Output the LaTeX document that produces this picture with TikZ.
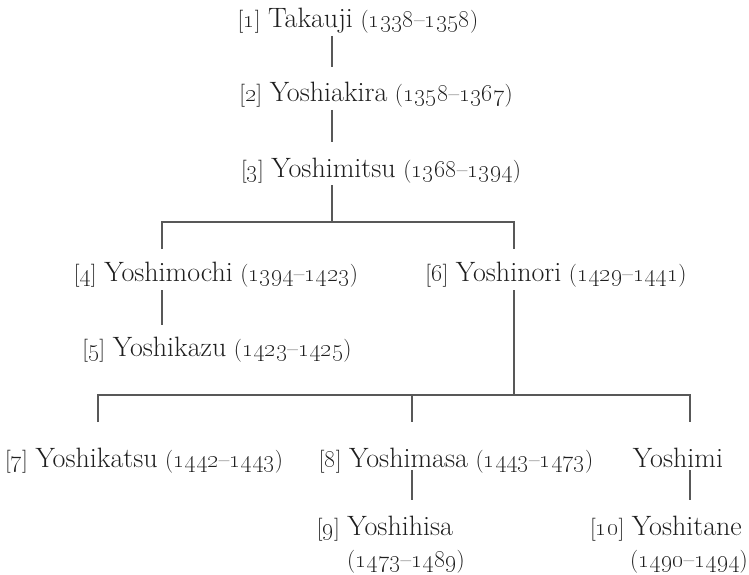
\documentclass[tikz,border=0pt]{standalone}
\usepackage{tikz}
\definecolor{inkc}{HTML}{1E1E1E}
\definecolor{linec}{HTML}{585858}
\newcommand\yrs[2]{{\fontsize{23}{27}\selectfont(\oldstylenums{#1}--\oldstylenums{#2})}}
\newcommand\nbr[1]{{\fontsize{23}{27}\selectfont[\oldstylenums{#1}]}}
\newcommand\nm[1]{{\fontsize{28}{32}\selectfont #1}}
\begin{document}
\begin{tikzpicture}[x=1pt,y=-1pt,
  person/.style={anchor=base, inner sep=0pt, outer sep=0pt, text height=19pt, text depth=6pt, text=inkc, font=\fontsize{25}{30}\selectfont},
  link/.style={draw=linec, line width=1.2pt}]
\useasboundingbox (0,0) rectangle (749,575);
% people
\node[person] (n1) at (358,28) {\nbr{1} \nm{Takauji} \yrs{1338}{1358}};
\node[person] (n2) at (376,102) {\nbr{2} \nm{Yoshiakira} \yrs{1358}{1367}};
\node[person] (n3) at (381,177) {\nbr{3} \nm{Yoshimitsu} \yrs{1368}{1394}};
\node[person] (n4) at (216,281) {\nbr{4} \nm{Yoshimochi} \yrs{1394}{1423}};
\node[person] (n6) at (556,281) {\nbr{6} \nm{Yoshinori} \yrs{1429}{1441}};
\node[person] (n5) at (217,356) {\nbr{5} \nm{Yoshikazu} \yrs{1423}{1425}};
\node[person] (n7) at (144,467) {\nbr{7} \nm{Yoshikatsu} \yrs{1442}{1443}};
\node[person] (n8) at (456,467) {\nbr{8} \nm{Yoshimasa} \yrs{1443}{1473}};
\node[person] (ym) at (678,467) {\nm{Yoshimi}};
\node[person] (n9) at (385,535) {\nbr{9} \nm{Yoshihisa}};
\node[person] (n9d) at (406,567) {\yrs{1473}{1489}};
\node[person] (n10) at (666,535) {\nbr{10} \nm{Yoshitane}};
\node[person] (n10d) at (689,567) {\yrs{1490}{1494}};
% junctions
\coordinate (t1) at (332,0);
\coordinate (f1) at (332,222);
\coordinate (c4) at (162,222);
\coordinate (c6) at (514,222);
\coordinate (c7) at (98,395);
\coordinate (c8) at (412,395);
\coordinate (c9) at (690,395);
% connectors
\draw[link, shorten <=2pt, shorten >=16pt] (n1.south -| t1) -- (n2.north -| t1);
\draw[link, shorten <=2pt, shorten >=16pt] (n2.south -| t1) -- (n3.north -| t1);
\draw[link, shorten <=2pt] (n3.south -| f1) -- (f1);
\draw[link, shorten <=13pt, shorten >=13pt] (n4.north -| c4) -- (c4) -- (c6) -- (n6.north -| c6);
\draw[link, shorten <=3pt, shorten >=12pt] (n4.south -| c4) -- (n5.north -| c4);
\draw[link, shorten <=3pt] (n6.south -| c6) -- (c6 |- c8);
\draw[link, shorten <=26pt, shorten >=26pt] (n7.north -| c7) -- (c7) -- (c9) -- (ym.north -| c9);
\draw[link, shorten >=26pt] (c8) -- (n8.north -| c8);
\draw[link, shorten <=-3pt, shorten >=16pt] (n8.south -| c8) -- (n9.north -| c8);
\draw[link, shorten <=-3pt, shorten >=16pt] (ym.south -| c9) -- (n10.north -| c9);
\end{tikzpicture}
\end{document}
